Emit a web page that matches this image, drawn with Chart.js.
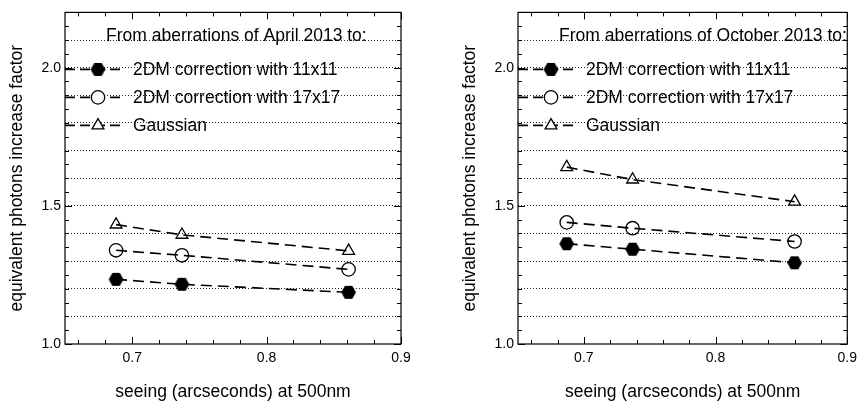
<!DOCTYPE html>
<html>
<head>
<meta charset="utf-8">
<style>
  html, body { margin: 0; padding: 0; background: #fff; }
  #wrap { position: relative; width: 863px; height: 409px; overflow: hidden; }
  canvas { position: absolute; top: 0; }
  #left { left: 0; }
  #right { left: 453px; }
</style>
<script src="https://cdn.jsdelivr.net/npm/chart.js"></script>
</head>
<body>
<div id="wrap">
  <canvas id="left" width="431" height="409"></canvas>
  <canvas id="right" width="410" height="409"></canvas>
</div>
<script>
// Data
const seeingApril = [0.688, 0.737, 0.861];
const april11 = [1.234, 1.216, 1.187];
const april17 = [1.339, 1.321, 1.270];
const aprilGauss = [1.432, 1.395, 1.337];

const seeingOctober = [0.687, 0.737, 0.860];
const october11 = [1.363, 1.343, 1.294];
const october17 = [1.440, 1.419, 1.371];
const octoberGauss = [1.640, 1.595, 1.515];

const seriesNames = ["2DM correction with 11x11", "2DM correction with 17x17", "Gaussian"];

// Axis ticks
const xTicks = [0.66, 0.68, 0.70, 0.72, 0.74, 0.76, 0.78, 0.80, 0.82, 0.84, 0.86, 0.88, 0.90];
const xLabels = [0.7, 0.8, 0.9];
const yTicks = [1.0, 1.05, 1.1, 1.15, 1.2, 1.25, 1.3, 1.35, 1.4, 1.45, 1.5, 1.55, 1.6,
                1.65, 1.7, 1.75, 1.8, 1.85, 1.9, 1.95, 2.0, 2.05, 2.1, 2.15, 2.2];
const yLabels = [1.0, 1.5, 2.0];
const yGrid = [1.1, 1.2, 1.3, 1.4, 1.5, 1.6, 1.7, 1.8, 1.9, 2.0, 2.1];

const FONT = "'Liberation Sans', Arial, Helvetica, sans-serif";

function isIn(list, v) {
  return list.some((t) => Math.abs(t - v) < 1e-6);
}

// filled hexagon used as point style
function makeHexagon(r) {
  const c = document.createElement("canvas");
  const size = Math.ceil(2 * r + 2);
  c.width = size;
  c.height = size;
  const g = c.getContext("2d");
  g.beginPath();
  for (let i = 0; i < 6; i++) {
    const a = (Math.PI / 3) * i;
    const px = size / 2 + r * Math.cos(a);
    const py = size / 2 + r * Math.sin(a);
    if (i === 0) g.moveTo(px, py);
    else g.lineTo(px, py);
  }
  g.closePath();
  g.fillStyle = "#000";
  g.fill();
  return c;
}
const hexagon = makeHexagon(7.4);

const markers = [
  { pointStyle: hexagon, radius: 7, fill: "#000", border: 0 },
  { pointStyle: "circle", radius: 6.7, fill: "rgba(0,0,0,0)", border: 1.3 },
  { pointStyle: "triangle", radius: 6.8, fill: "rgba(0,0,0,0)", border: 1.3 },
];

function makeDataset(name, xs, ys, m) {
  return {
    label: name,
    data: xs.map((x, i) => ({ x: x, y: ys[i] })),
    borderColor: "#000",
    borderWidth: 1.6,
    borderDash: [11, 6],
    pointStyle: m.pointStyle,
    pointRadius: m.radius,
    pointHoverRadius: m.radius,
    pointBackgroundColor: m.fill,
    pointBorderColor: "#000",
    pointBorderWidth: m.border,
    fill: false,
    tension: 0,
  };
}

// box frame plus inward tick marks on all four sides
const framePlugin = {
  id: "frame",
  afterDatasetsDraw(chart) {
    const { ctx, chartArea: a, scales } = chart;
    ctx.save();
    ctx.strokeStyle = "#000";
    ctx.lineWidth = 1;
    ctx.beginPath();
    yTicks.forEach((v) => {
      const y = Math.round(scales.y.getPixelForValue(v)) + 0.5;
      const len = isIn(yLabels, v) ? 7 : 4;
      ctx.moveTo(a.left, y);
      ctx.lineTo(a.left + len, y);
      ctx.moveTo(a.right, y);
      ctx.lineTo(a.right - len, y);
    });
    xTicks.forEach((v) => {
      const x = Math.round(scales.x.getPixelForValue(v)) + 0.5;
      const len = isIn(xLabels, v) ? 7 : 4;
      ctx.moveTo(x, a.bottom);
      ctx.lineTo(x, a.bottom - len);
      ctx.moveTo(x, a.top);
      ctx.lineTo(x, a.top + len);
    });
    ctx.stroke();
    ctx.lineWidth = 1.2;
    ctx.strokeRect(a.left, a.top, a.right - a.left, a.bottom - a.top);
    ctx.restore();
  },
};

function drawMarker(ctx, m, x, y) {
  ctx.save();
  ctx.fillStyle = "#fff";
  ctx.strokeStyle = "#000";
  if (m.pointStyle === "circle") {
    ctx.lineWidth = m.border;
    ctx.beginPath();
    ctx.arc(x, y, m.radius, 0, Math.PI * 2);
    ctx.fill();
    ctx.stroke();
  } else if (m.pointStyle === "triangle") {
    ctx.lineWidth = m.border;
    const r = m.radius;
    ctx.beginPath();
    ctx.moveTo(x, y - r);
    ctx.lineTo(x + r * Math.sin(Math.PI * 2 / 3), y - r * Math.cos(Math.PI * 2 / 3));
    ctx.lineTo(x - r * Math.sin(Math.PI * 2 / 3), y - r * Math.cos(Math.PI * 2 / 3));
    ctx.closePath();
    ctx.fill();
    ctx.stroke();
  } else {
    ctx.drawImage(m.pointStyle, x - m.pointStyle.width / 2, y - m.pointStyle.height / 2);
  }
  ctx.restore();
}

// legend drawn inside the plot area
const insideLegend = {
  id: "insideLegend",
  afterDraw(chart, args, opts) {
    const { ctx, chartArea: a } = chart;
    ctx.save();
    ctx.font = "17.5px " + FONT;
    ctx.fillStyle = "#000";
    ctx.textBaseline = "middle";
    ctx.textAlign = "left";
    ctx.fillText(opts.title, a.left + 41, a.top + 24);
    chart.data.datasets.forEach((ds, i) => {
      const y = a.top + 57 + i * 28;
      ctx.strokeStyle = "#000";
      ctx.lineWidth = 1.6;
      ctx.setLineDash([10, 5]);
      ctx.beginPath();
      ctx.moveTo(a.left, y);
      ctx.lineTo(a.left + 60, y);
      ctx.stroke();
      ctx.setLineDash([]);
      drawMarker(ctx, markers[i], a.left + 33, y);
      ctx.fillStyle = "#000";
      ctx.fillText(ds.label, a.left + 68, y + 1);
    });
    ctx.restore();
  },
};

function makeChart(id, title, xs, s11, s17, sg, padRight) {
  const ctx = document.getElementById(id).getContext("2d");
  return new Chart(ctx, {
    type: "line",
    data: {
      datasets: [
        makeDataset(seriesNames[0], xs, s11, markers[0]),
        makeDataset(seriesNames[1], xs, s17, markers[1]),
        makeDataset(seriesNames[2], xs, sg, markers[2]),
      ],
    },
    options: {
      responsive: false,
      animation: false,
      layout: { padding: { top: 6, right: padRight, left: 0, bottom: 0 } },
      plugins: {
        legend: { display: false },
        tooltip: { enabled: false },
        insideLegend: { title: title },
      },
      scales: {
        x: {
          type: "linear",
          min: 0.65,
          max: 0.9,
          afterFit: (s) => { s.height = 65; },
          afterBuildTicks: (s) => { s.ticks = xTicks.map((v) => ({ value: v })); },
          grid: { display: false, drawTicks: false },
          border: { display: false },
          ticks: {
            padding: 6,
            color: "#000",
            font: { family: FONT, size: 14 },
            maxRotation: 0,
            autoSkip: false,
            callback: (v) => (isIn(xLabels, v) ? v.toFixed(1) : ""),
          },
          title: {
            display: true,
            text: "seeing (arcseconds) at 500nm",
            color: "#000",
            font: { family: FONT, size: 17.5 },
            padding: { top: 0, bottom: 6 },
          },
        },
        y: {
          type: "linear",
          min: 1.0,
          max: 2.2,
          afterFit: (s) => { s.width = 65; },
          afterBuildTicks: (s) => { s.ticks = yTicks.map((v) => ({ value: v })); },
          grid: {
            drawTicks: false,
            lineWidth: 1,
            color: (c) => (c.tick && isIn(yGrid, c.tick.value) ? "#222" : "rgba(0,0,0,0)"),
          },
          border: { display: false, dash: [1, 2] },
          ticks: {
            padding: 4,
            color: "#000",
            font: { family: FONT, size: 14 },
            autoSkip: false,
            callback: (v) => (isIn(yLabels, v) ? v.toFixed(1) : ""),
          },
          title: {
            display: true,
            text: "equivalent photons increase factor",
            color: "#000",
            font: { family: FONT, size: 17.5 },
            padding: { top: 7, bottom: 0 },
          },
        },
      },
    },
    plugins: [framePlugin, insideLegend],
  });
}

makeChart("left", "From aberrations of April 2013 to:", seeingApril, april11, april17, aprilGauss, 30);
makeChart("right", "From aberrations of October 2013 to:", seeingOctober, october11, october17, octoberGauss, 8);
</script>
</body>
</html>
